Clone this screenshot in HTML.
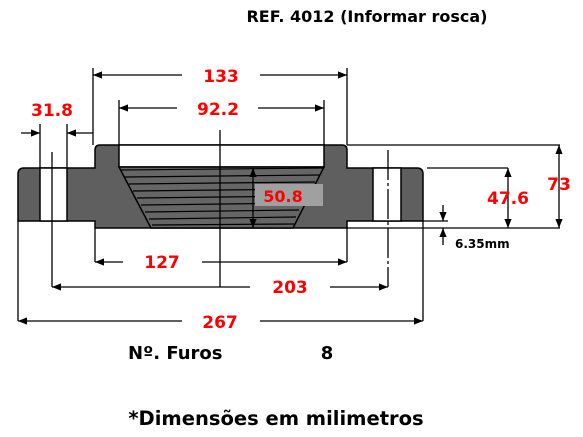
<!DOCTYPE html>
<html><head><meta charset="utf-8"><style>
html,body{margin:0;padding:0;background:#fff;}
svg{display:block;}
text{font-family:"DejaVu Sans","Liberation Sans",sans-serif;font-weight:bold;}
</style></head><body>
<svg width="583" height="437" viewBox="0 0 583 437" xmlns="http://www.w3.org/2000/svg">
<defs>
<marker id="ar" viewBox="0 0 10 10" refX="10" refY="5" markerWidth="9" markerHeight="9" orient="auto-start-reverse" markerUnits="userSpaceOnUse"><path d="M0,1 L10,5 L0,9 z" fill="#000"/></marker>
</defs>
<text x="367" y="22" font-size="16" text-anchor="middle">REF. 4012 (Informar rosca)</text>

<g stroke="#000" stroke-width="1.5">
<path d="M18,221 L18,174 Q18,168 24,168 L95,168 L95,150 Q95,145 100,145 L342,145 Q347,145 347,150 L347,168 L417,168 Q423,168 423,174 L423,221 L347,221 L347,228 L95,228 L95,221 Z" fill="#5f5f5f"/>
<rect x="40" y="168" width="27" height="53" fill="#fff"/>
<rect x="373" y="168" width="28" height="53" fill="#fff"/>
<path d="M119,145 L324,145 L324,167 L119,167 Z" fill="#fff"/>
<path d="M119,167 L324,167 L293,228 L151,228 Z" fill="#666"/>
</g>
<g stroke="#000" stroke-width="1.2" fill="none">
<path d="M121,170 L323,168"/><path d="M125,177 L319,175"/><path d="M129,184 L315,182"/><path d="M133,191 L311,189"/>
<path d="M137,198 L307,196"/><path d="M141,205 L303,203"/><path d="M145,212 L299,210"/><path d="M149,219 L296,217"/><path d="M152,225 L294,224"/>
</g>
<rect x="255" y="184" width="68" height="22" fill="#a0a0a0"/>
<text x="283" y="202" font-size="16" fill="#f00" text-anchor="middle">50.8</text>

<g stroke="#000" stroke-width="1.3" fill="none">
<path d="M220,130 L220,287"/>
<path d="M52,152 L52,287"/>
<path d="M388,150 L388,287" stroke-dasharray="30,3,3,3"/>
</g>

<g stroke="#000" stroke-width="1.3" fill="none">
<path d="M93,68 L93,145 M347,68 L347,145"/>
<path d="M93,75 L182,75" marker-start="url(#ar)"/><path d="M260,75 L347,75" marker-end="url(#ar)"/>
<path d="M119,100 L119,145 M324,100 L324,145"/>
<path d="M119,108 L177,108" marker-start="url(#ar)"/><path d="M258,108 L324,108" marker-end="url(#ar)"/>
<path d="M40,124 L40,168 M67,124 L67,168"/>
<path d="M21,133 L40,133" marker-end="url(#ar)"/><path d="M93,133 L67,133" marker-end="url(#ar)"/>
<path d="M253,168 L253,228" marker-start="url(#ar)" marker-end="url(#ar)"/>
<path d="M347,145 L560,145 M427,168 L508,168 M347,228 L560,228 M423,221 L448,221"/>
<path d="M559,145 L559,228" marker-start="url(#ar)" marker-end="url(#ar)"/>
<path d="M508,168 L508,228" marker-start="url(#ar)" marker-end="url(#ar)"/>
<path d="M443,205 L443,221" marker-end="url(#ar)"/><path d="M443,245 L443,228" marker-end="url(#ar)"/>
<path d="M95,228 L95,262 M347,228 L347,262"/>
<path d="M95,262 L123,262" marker-start="url(#ar)"/><path d="M202,262 L347,262" marker-end="url(#ar)"/>
<path d="M52,287 L250,287" marker-start="url(#ar)"/><path d="M330,287 L388,287" marker-end="url(#ar)"/>
<path d="M18,221 L18,321 M423,221 L423,321"/>
<path d="M18,321 L182,321" marker-start="url(#ar)"/><path d="M260,321 L423,321" marker-end="url(#ar)"/>
</g>

<g fill="#f00" font-size="17" text-anchor="middle">
<text x="221" y="82">133</text>
<text x="218" y="115">92.2</text>
<text x="52" y="116">31.8</text>
<text x="559" y="190">73</text>
<text x="508" y="204">47.6</text>
<text x="162" y="268">127</text>
<text x="290" y="293">203</text>
<text x="220" y="328">267</text>
</g>
<text x="455" y="248" font-size="12">6.35mm</text>
<text x="128" y="359" font-size="18">Nº. Furos</text>
<text x="327" y="359" font-size="18" text-anchor="middle">8</text>
<text x="276" y="425" font-size="19.5" text-anchor="middle">*Dimensões em milimetros</text>
</svg>
</body></html>
